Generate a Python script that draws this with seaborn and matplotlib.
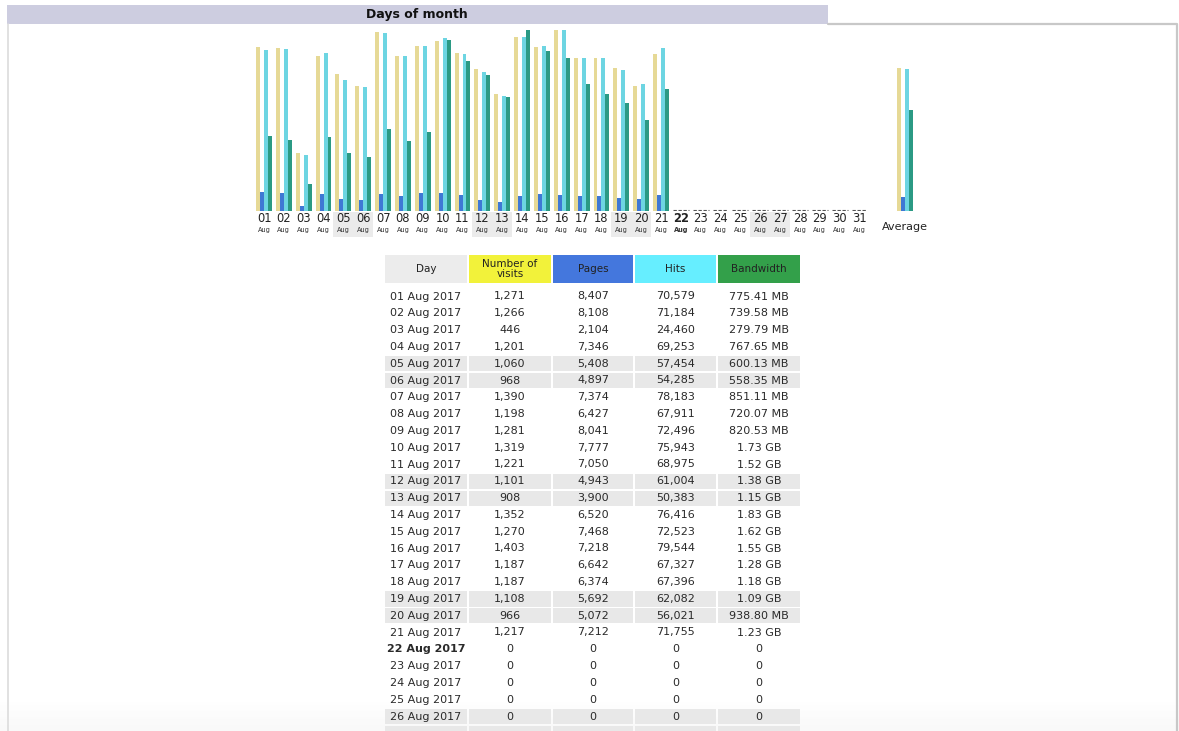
import calendar

import matplotlib
matplotlib.use("Agg")
import matplotlib.pyplot as plt
import numpy as np
import pandas as pd
import seaborn as sns
from matplotlib.patches import Rectangle

# ---- data (August 2017) ----
DAYS = list(range(1, 32))
VISITS = [1271, 1266, 446, 1201, 1060, 968, 1390, 1198, 1281, 1319, 1221,
          1101, 908, 1352, 1270, 1403, 1187, 1187, 1108, 966, 1217] + [0] * 10
PAGES = [8407, 8108, 2104, 7346, 5408, 4897, 7374, 6427, 8041, 7777, 7050,
         4943, 3900, 6520, 7468, 7218, 6642, 6374, 5692, 5072, 7212] + [0] * 10
HITS = [70579, 71184, 24460, 69253, 57454, 54285, 78183, 67911, 72496, 75943, 68975,
        61004, 50383, 76416, 72523, 79544, 67327, 67396, 62082, 56021, 71755] + [0] * 10
BANDWIDTH_MB = [775.41, 739.58, 279.79, 767.65, 600.13, 558.35, 851.11, 720.07, 820.53,
                1771.5, 1556.5, 1413.1, 1177.6, 1873.9, 1658.9, 1587.2, 1310.7, 1208.3,
                1116.2, 938.80, 1259.5] + [0] * 10
BANDWIDTH_TXT = ["775.41 MB", "739.58 MB", "279.79 MB", "767.65 MB", "600.13 MB",
                 "558.35 MB", "851.11 MB", "720.07 MB", "820.53 MB", "1.73 GB",
                 "1.52 GB", "1.38 GB", "1.15 GB", "1.83 GB", "1.62 GB", "1.55 GB",
                 "1.28 GB", "1.18 GB", "1.09 GB", "938.80 MB", "1.23 GB"] + ["0"] * 10
AVERAGE = {"visits": 1105, "pages": 6090, "hits": 62508, "bandwidth": 1045}
TODAY = 22
YEAR, MONTH, MONTH_NAME = 2017, 8, "Aug"

METRICS = ["visits", "pages", "hits", "bandwidth"]
BAR_COLORS = {"visits": "#e6d996", "pages": "#3f78d4", "hits": "#6dd5e2", "bandwidth": "#2b9a84"}
HEAD_COLORS = ["#ececec", "#f2f23a", "#4477dd", "#66eeff", "#33a04a"]

W, H = 1179, 731
X0, DX = 264.0, 19.85      # pixel centre of day 1 and day spacing
AVG_POS = 33.3             # position of the "Average" group in day units
BASE_Y, TOP_Y = 211, 30    # pixel rows of bar baseline and full-scale top


def px(day_pos):
    return X0 + (day_pos - 1) * DX


def is_weekend(d):
    return calendar.weekday(YEAR, MONTH, d) >= 5


def fmt(n):
    return f"{n:,}"


sns.set_theme(style="white")
plt.rcParams["font.family"] = ["DejaVu Sans"]

fig = plt.figure(figsize=(W / 100, H / 100), dpi=100)
bg = fig.add_axes([0, 0, 1, 1])
bg.set_xlim(0, W)
bg.set_ylim(H, 0)
bg.axis("off")

# frame and title bar
bg.add_patch(Rectangle((7, 5), 821, 19, color="#cdcde0", lw=0))
bg.plot([828, 1177, 1177], [23.5, 23.5, H], color="#c8c8c8", lw=1.6)
bg.plot([7.5, 7.5], [24, H], color="#dcdcdc", lw=1.2)
bg.text(417, 14.5, "Days of month", ha="center", va="center", fontsize=9,
        fontweight="bold", color="#111111")

# ---- bar chart ----
vmax = max(VISITS)
hmax = max(HITS)
bmax = max(BANDWIDTH_MB)
rows = []
for i, d in enumerate(DAYS):
    rows += [
        {"pos": d, "metric": "visits", "height": VISITS[i] / vmax},
        {"pos": d, "metric": "pages", "height": PAGES[i] / hmax},
        {"pos": d, "metric": "hits", "height": HITS[i] / hmax},
        {"pos": d, "metric": "bandwidth", "height": BANDWIDTH_MB[i] / bmax},
    ]
rows += [
    {"pos": AVG_POS, "metric": "visits", "height": AVERAGE["visits"] / vmax},
    {"pos": AVG_POS, "metric": "pages", "height": AVERAGE["pages"] / hmax},
    {"pos": AVG_POS, "metric": "hits", "height": AVERAGE["hits"] / hmax},
    {"pos": AVG_POS, "metric": "bandwidth", "height": AVERAGE["bandwidth"] / bmax},
]
bars = pd.DataFrame(rows)

left_px, right_px = 244, 934
ax = fig.add_axes([left_px / W, (H - BASE_Y) / H, (right_px - left_px) / W, (BASE_Y - TOP_Y) / H])
ax.patch.set_alpha(0)
sns.barplot(data=bars, x="pos", y="height", hue="metric", hue_order=METRICS,
            palette=BAR_COLORS, native_scale=True, width=0.8, linewidth=0,
            saturation=1, legend=False, ax=ax)
zero_days = [d for d, v in zip(DAYS, VISITS) if v == 0]
ax.hlines([0.006] * len(zero_days), [d - 0.4 for d in zero_days],
          [d + 0.4 for d in zero_days], color="#555555", lw=0.8, linestyles=(0, (3, 1.5)))
ax.set_xlim(1 + (left_px - X0) / DX, 1 + (right_px - X0) / DX)
ax.set_ylim(0, 1)
ax.axis("off")

# day labels under the bars
for d in DAYS:
    cx = px(d)
    if is_weekend(d):
        bg.add_patch(Rectangle((cx - DX / 2, 212), DX, 25, color="#ebebeb", lw=0))
    weight = "bold" if d == TODAY else "normal"
    bg.text(cx, 219, f"{d:02d}", ha="center", va="center", fontsize=8.3,
            fontweight=weight, color="#222222")
    bg.text(cx, 230, MONTH_NAME, ha="center", va="center", fontsize=4.8,
            fontweight=weight, color="#333333")
bg.text(px(AVG_POS), 227, "Average", ha="center", va="center", fontsize=8, color="#222222")

# ---- table ----
COLS = [(385, 467), (469, 551), (553, 633), (635, 716), (718, 800)]
HEADERS = ["Day", "Number of\nvisits", "Pages", "Hits", "Bandwidth"]
for (x1, x2), label, c in zip(COLS, HEADERS, HEAD_COLORS):
    bg.add_patch(Rectangle((x1, 255), x2 - x1, 28, color=c, lw=0))
    bg.text((x1 + x2) / 2, 269, label, ha="center", va="center", fontsize=7.5,
            color="#222222", linespacing=0.95)

ROW_Y0, ROW_DY = 296.5, 16.8
for i, d in enumerate(DAYS):
    cy = ROW_Y0 + i * ROW_DY
    if cy - 7.6 > H:
        break  # the screenshot ends here; rest of the table is below the fold
    if is_weekend(d):
        for x1, x2 in COLS:
            bg.add_patch(Rectangle((x1, cy - 7.6), x2 - x1, 15.2, color="#e8e8e8", lw=0))
    if cy + 5 > H:
        continue  # only the shaded row strip of this row peeks in
    cells = [f"{d:02d} {MONTH_NAME} {YEAR}", fmt(VISITS[i]), fmt(PAGES[i]),
             fmt(HITS[i]), BANDWIDTH_TXT[i]]
    weight = "bold" if d == TODAY else "normal"
    for (x1, x2), txt in zip(COLS, cells):
        bg.text((x1 + x2) / 2, cy, txt, ha="center", va="center", fontsize=8,
                fontweight=weight if txt == cells[0] else "normal", color="#2a2a2a")

# faint screenshot shade at the bottom edge
grad = np.linspace(0, 1, 40).reshape(-1, 1)
bg.imshow(grad, extent=(0, W, H, H - 30), cmap="Greys", vmin=0, vmax=12,
          alpha=0.6, aspect="auto", zorder=0.5)

fig.savefig("out.png", dpi=100)
